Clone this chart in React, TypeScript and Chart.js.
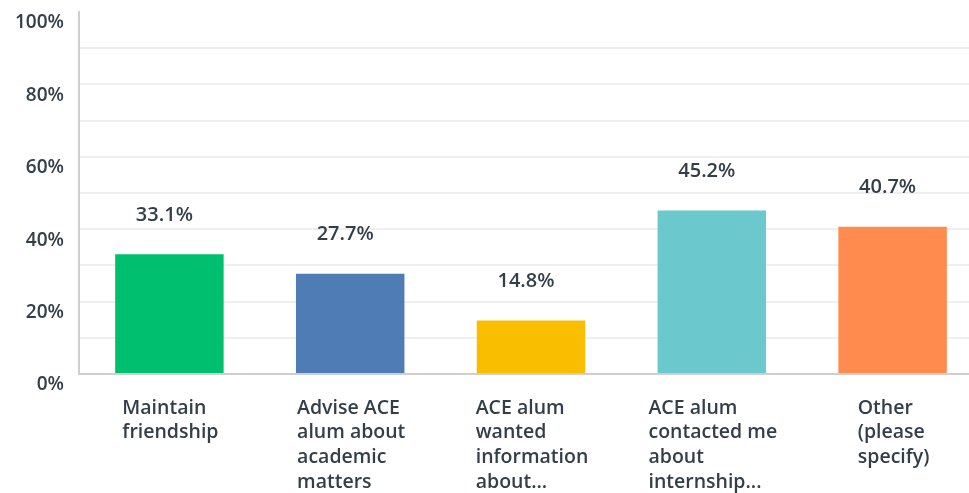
import React, { useEffect, useRef } from "react";
import { Chart, registerables } from "chart.js";

Chart.register(...registerables);

const categories: string[][] = [
  ["Maintain", "friendship"],
  ["Advise ACE", "alum about", "academic", "matters"],
  ["ACE alum", "wanted", "information", "about..."],
  ["ACE alum", "contacted me", "about", "internship..."],
  ["Other", "(please", "specify)"],
];
const values: number[] = [33.1, 27.7, 14.8, 45.2, 40.7];
const barColors: string[] = ["#00bf6f", "#507cb6", "#f9be00", "#6bc8cd", "#ff8b4f"];
const yTicks: number[] = [0, 20, 40, 60, 80, 100];

const FONT = "'Open Sans', sans-serif";
const TEXT = "#333e48";

const labelPlugin = {
  id: "customLabels",
  afterDatasetsDraw(chart: any) {
    const ctx = chart.ctx;
    const meta = chart.getDatasetMeta(0);
    ctx.save();
    ctx.fillStyle = TEXT;
    ctx.font = `600 20px ${FONT}`;
    ctx.textAlign = "center";
    ctx.textBaseline = "middle";
    meta.data.forEach((bar: any, i: number) => {
      ctx.fillText(values[i].toFixed(1) + "%", bar.x - 5, bar.y - 39);
    });
    const xs = chart.scales.x;
    ctx.font = `600 19.5px ${FONT}`;
    ctx.textAlign = "left";
    categories.forEach((lines, i) => {
      const cx = xs.getPixelForValue(i);
      const maxW = Math.max(...lines.map((l) => ctx.measureText(l).width));
      const left = cx - maxW / 2 + 1;
      lines.forEach((l, j) => {
        ctx.fillText(l, left, xs.top + 34 + j * 24.7);
      });
    });
    ctx.restore();
  },
};

export default function App() {
  const ref = useRef<HTMLCanvasElement>(null);
  useEffect(() => {
    if (!ref.current) return;
    const chart = new Chart(ref.current, {
      type: "bar",
      data: {
        labels: categories.map((c) => c.join(" ")),
        datasets: [
          {
            data: values,
            backgroundColor: barColors,
            barPercentage: 0.6,
            categoryPercentage: 1,
          },
        ],
      },
      options: {
        responsive: false,
        animation: false,
        layout: { padding: { top: 12, right: 1, left: 0, bottom: 0 } },
        plugins: { legend: { display: false }, tooltip: { enabled: false } },
        scales: {
          x: {
            grid: { display: false },
            border: { display: true, color: "#cfcfcf", width: 2 },
            ticks: { display: false },
            afterFit: (s: any) => {
              s.height = 119;
              s.paddingLeft = 0;
              s.paddingRight = 0;
            },
          },
          y: {
            min: 0,
            max: 100,
            afterBuildTicks: (s: any) => {
              const t: any[] = [];
              for (let v = 0; v <= 100; v += 10) t.push({ value: v });
              s.ticks = t;
            },
            ticks: {
              callback: (v: any) => (yTicks.includes(Number(v)) ? v + "%" : ""),
              color: TEXT,
              font: { family: FONT, size: 19, weight: "600" as any },
              padding: 15,
              labelOffset: 11,
              autoSkip: false,
            },
            grid: {
              drawTicks: false,
              color: (c: any) => (c.tick && (c.tick.value === 100 || c.tick.value === 0) ? "rgba(0,0,0,0)" : "#efefef"),
              lineWidth: 2,
            },
            border: { display: true, color: "#cfcfcf", width: 2 },
            afterFit: (s: any) => {
              s.width = 79;
              s.paddingTop = 0;
              s.paddingBottom = 0;
            },
          },
        },
      },
      plugins: [labelPlugin],
    });
    return () => chart.destroy();
  }, []);
  return (
    <div style={{ position: "fixed", left: 0, top: 0, width: 969, height: 493, overflow: "hidden", background: "#fff" }}>
      <canvas ref={ref} width={984} height={493} style={{ display: "block" }} />
    </div>
  );
}
